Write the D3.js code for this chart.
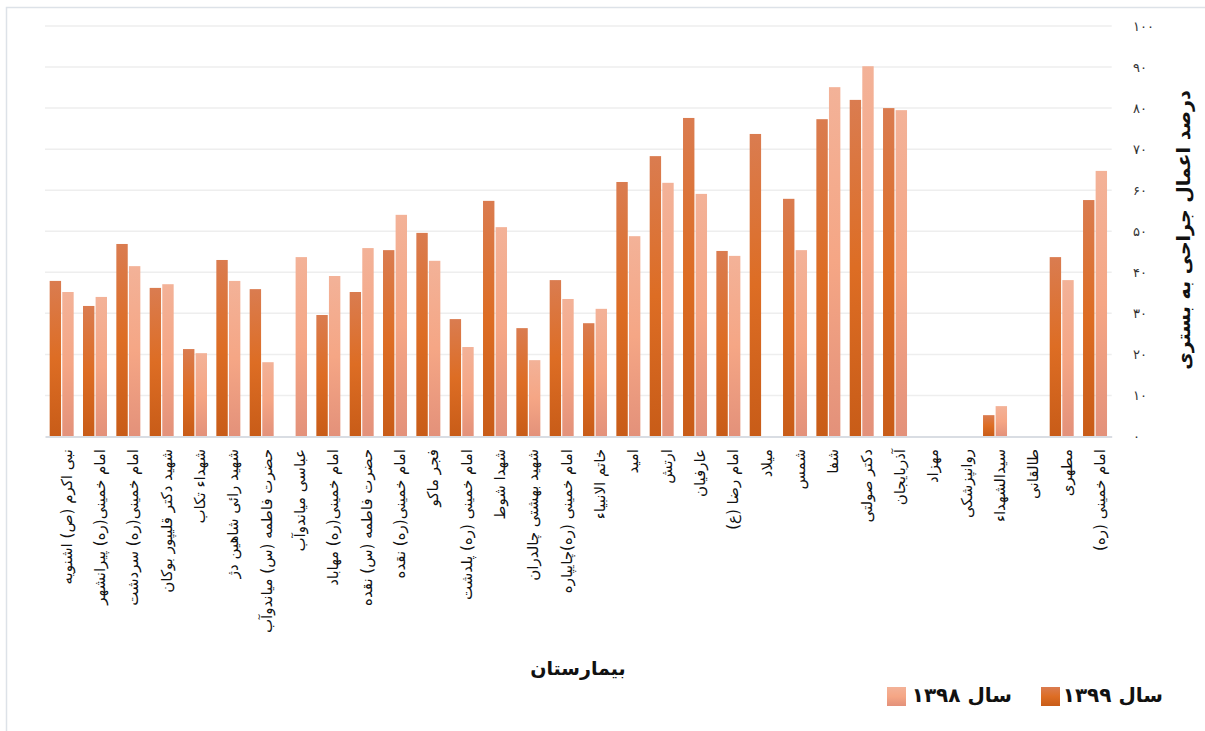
<!DOCTYPE html>
<html>
<head>
<meta charset="utf-8">
<script src="https://cdn.jsdelivr.net/npm/d3@7"></script>
<style>
html,body{margin:0;padding:0;background:#fff;}
svg{display:block;}
text{font-family:"DejaVu Sans",sans-serif;}
</style>
</head>
<body>
<svg id="chart" width="1205" height="731"></svg>
<script>
// ---------- data ----------
const categories = [
  "نبی اکرم (ص) اشنویه",
  "امام خمینی(ره) پیرانشهر",
  "امام خمینی(ره) سردشت",
  "شهید دکتر قلیپور بوکان",
  "شهداء تکاب",
  "شهید رائی شاهین دژ",
  "حضرت فاطمه (س) میاندوآب",
  "عباسی میاندوآب",
  "امام خمینی(ره) مهاباد",
  "حضرت فاطمه (س) نقده",
  "امام خمینی(ره) نقده",
  "فجر ماکو",
  "امام خمینی (ره) پلدشت",
  "شهدا شوط",
  "شهید بهشتی چالدران",
  "امام خمینی (ره)چایپاره",
  "خاتم الانبیاء",
  "امید",
  "ارتش",
  "عارفیان",
  "امام رضا (ع)",
  "میلاد",
  "شمس",
  "شفا",
  "دکتر صولتی",
  "آذربایجان",
  "مهزاد",
  "روانپزشکی",
  "سیدالشهداء",
  "طالقانی",
  "مطهری",
  "امام خمینی (ره)"
];
const values1399 = [37.9, 31.8, 46.9, 36.2, 21.3, 43.0, 35.9, 0, 29.6, 35.2, 45.4, 49.6, 28.6, 57.4, 26.4, 38.1, 27.6, 62.0, 68.3, 77.6, 45.2, 73.7, 57.9, 77.3, 82.0, 80.0, 0, 0, 5.2, 0, 43.7, 57.6];
const values1398 = [35.2, 34.0, 41.5, 37.1, 20.3, 37.9, 18.1, 43.7, 39.1, 45.9, 54.0, 42.8, 21.8, 51.0, 18.6, 33.5, 31.1, 48.8, 61.8, 59.1, 44.0, 0, 45.4, 85.1, 90.2, 79.5, 0, 0, 7.4, 0, 38.1, 64.7];
const seriesNames = ["سال ۱۳۹۹", "سال ۱۳۹۸"];
const yTickValues = [0, 10, 20, 30, 40, 50, 60, 70, 80, 90, 100];
const yAxisTitle = "درصد اعمال جراحی به بستری";
const xAxisTitle = "بیمارستان";

// ---------- helpers ----------
const faDigits = "۰۱۲۳۴۵۶۷۸۹";
const toFa = n => String(n).replace(/\d/g, d => faDigits[+d]);

const svg = d3.select("#chart");
const defs = svg.append("defs");
function grad(id, stops) {
  const g = defs.append("linearGradient").attr("id", id)
    .attr("x1", 0).attr("y1", 0).attr("x2", 0).attr("y2", 1);
  stops.forEach(s => g.append("stop").attr("offset", s[0]).attr("stop-color", s[1]));
}
grad("gDark", [[0, "#DA7C50"], [0.5, "#DD6D24"], [1, "#C85C18"]]);
grad("gLight", [[0, "#F3B298"], [0.5, "#F5A685"], [1, "#E3917A"]]);
const fills = ["url(#gDark)", "url(#gLight)"];

// chart frame
svg.append("rect").attr("x", 6.5).attr("y", 7.5).attr("width", 1300).attr("height", 900)
  .attr("fill", "none").attr("stroke", "#DDE2E8").attr("stroke-width", 1.5);

// ---------- scales ----------
const plotL = 45, plotR = 1111.7, plotTop = 26, plotBot = 436.5;
const x = d3.scaleBand().domain(categories).range([plotL, plotR]).padding(0);
const y = d3.scaleLinear().domain([0, 100]).range([plotBot, plotTop]);
const xSub = d3.scaleBand().domain(seriesNames).range([-12, 12]).padding(0);

// gridlines
svg.append("g").selectAll("line").data(yTickValues.filter(v => v > 0)).join("line")
  .attr("x1", plotL).attr("x2", plotR)
  .attr("y1", d => y(d)).attr("y2", d => y(d))
  .attr("stroke", "#EEEEEE").attr("stroke-width", 1.5);

// y axis (right side, tick labels only)
const yAxis = d3.axisRight(y).tickValues(yTickValues).tickFormat(toFa).tickSize(0).tickPadding(0);
const yg = svg.append("g").attr("transform", "translate(1133,0)").call(yAxis);
yg.select(".domain").remove();
yg.selectAll("text").attr("font-size", 13).attr("fill", "#333")
  .attr("font-family", "DejaVu Sans").attr("text-anchor", "start");

// bars
const seriesData = [values1399, values1398];
seriesData.forEach((vals, si) => {
  svg.append("g").selectAll("rect").data(categories).join("rect")
    .attr("x", (c) => x(c) + x.bandwidth() / 2 + xSub(seriesNames[si]) + (si === 0 ? 0 : 0.6))
    .attr("width", xSub.bandwidth() - 0.6)
    .attr("y", (c, i) => y(vals[i]))
    .attr("height", (c, i) => y(0) - y(vals[i]))
    .attr("fill", fills[si]);
});

// x axis line
const xAxis = d3.axisBottom(x).tickSize(0).tickFormat("");
const xg = svg.append("g").attr("transform", `translate(0,${plotBot})`).call(xAxis);
xg.select(".domain").attr("stroke", "#D9DDE3").attr("stroke-width", 2);
xg.selectAll(".tick").remove();

// category labels (rotated)
svg.append("g").selectAll("text").data(categories).join("text")
  .attr("transform", c => `translate(${x(c) + x.bandwidth() / 2 + 10},449) rotate(-90)`)
  .attr("direction", "rtl")
  .attr("text-anchor", "start")
  .attr("font-size", 15)
  .attr("fill", "#111")
  .text(c => c);

// y axis title
svg.append("text")
  .attr("transform", "translate(1190,230) rotate(-90)")
  .attr("direction", "rtl")
  .attr("text-anchor", "middle")
  .attr("font-size", 19).attr("font-weight", "bold").attr("fill", "#111")
  .text(yAxisTitle);

// x axis title
svg.append("text")
  .attr("x", 578).attr("y", 675)
  .attr("direction", "rtl")
  .attr("text-anchor", "middle")
  .attr("font-size", 19).attr("font-weight", "bold").attr("fill", "#111")
  .text(xAxisTitle);

// legend
const legendItems = [
  {name: seriesNames[0], fill: fills[0], sx: 1041, tx: 1163},
  {name: seriesNames[1], fill: fills[1], sx: 887, tx: 1012}
];
const lg = svg.append("g").selectAll("g").data(legendItems).join("g");
lg.append("rect").attr("x", d => d.sx).attr("y", 687).attr("width", 19).attr("height", 19).attr("fill", d => d.fill);
lg.append("text").attr("x", d => d.tx).attr("y", 702)
  .attr("direction", "rtl").attr("text-anchor", "start")
  .attr("font-size", 20).attr("font-weight", "bold").attr("fill", "#111")
  .text(d => d.name);
</script>
</body>
</html>
